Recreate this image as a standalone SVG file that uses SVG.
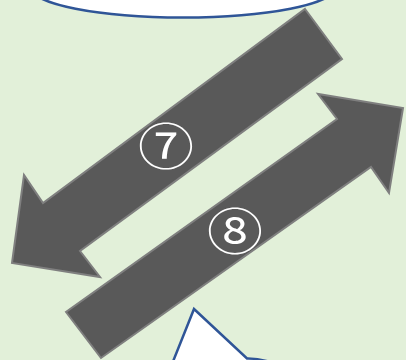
<svg xmlns="http://www.w3.org/2000/svg" width="406" height="360" viewBox="0 0 406 360">
  <style>
    .arrow { fill: #595959; stroke: #7F7F7F; stroke-width: 2; stroke-linejoin: miter; }
    .shape { fill: #FFFFFF; stroke: #2F5597; stroke-width: 2.5; }
    .num { fill: #FFFFFF; font-family: "Noto Sans CJK JP", "DejaVu Sans", sans-serif; font-size: 50px; font-weight: 400; text-anchor: middle; dominant-baseline: central; }
  </style>
  <rect x="0" y="0" width="406" height="360" fill="#E2F0D9"/>
  <g id="top-ellipse">
    <ellipse class="shape" cx="183" cy="-12.5" rx="152" ry="30"/>
  </g>
  <g id="callout">
    <path class="shape" d="M172,364 L194,309 L247,358.5 Q258,358.3 270,362"/>
  </g>
  <g id="connectors">
    <g id="arrow7">
      <polygon class="arrow" points="305,9 342,59 80,251 100,277 12,263 24,175 43,203"/>
      <text class="num" transform="translate(166,143) scale(1.12,1)" x="0" y="0">⑦</text>
    </g>
    <g id="arrow8">
      <polygon class="arrow" points="66,312 101,358 371,167 389,193 403,108 318,94 337,119"/>
      <text class="num" transform="translate(235,228) scale(1.12,1)" x="0" y="0">⑧</text>
    </g>
  </g>
</svg>
